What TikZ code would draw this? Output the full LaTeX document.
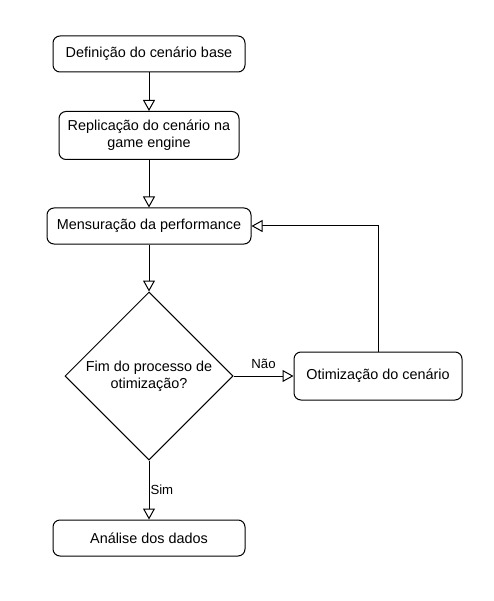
\documentclass[tikz,border=0pt]{standalone}
\usepackage{fontspec}
\setmainfont{Liberation Sans}
\usetikzlibrary{arrows.meta,shapes.geometric}
\begin{document}
\begin{tikzpicture}[x=1pt,y=-1pt,
  every node/.style={font=\fontsize{14.4}{17.3}\selectfont, inner sep=0pt, align=center},
  procbox/.style={draw, line width=1pt, rounded corners=7pt},
  decbox/.style={draw, line width=1pt, shape=diamond, minimum width=168pt, minimum height=168pt},
  flow/.style={draw, line width=1pt, -{Triangle[fill=white, length=11pt, width=12pt]}},
  lbl/.style={font=\fontsize{13.2}{15.8}\selectfont}
]
\useasboundingbox (0,0) rectangle (493,601);
\node[procbox, minimum width=192pt, minimum height=36pt] (b1) at (149,54) {Definição do cenário base};
\node[procbox, minimum width=180pt, minimum height=48pt] (b2) at (149,135.5) {Replicação do cenário na\\game engine};
\node[procbox, minimum width=204pt, minimum height=36pt] (b3) at (149,226) {Mensuração da performance};
\node[decbox] (d) at (149,376) {Fim do processo de\\otimização?};
\node[procbox, minimum width=168pt, minimum height=48pt] (opt) at (378,376) {Otimização do cenário};
\node[procbox, minimum width=192pt, minimum height=36pt] (b5) at (149,538) {Análise dos dados};
\coordinate (c1) at (378,226);
\path[flow] (b1) -- (b2);
\path[flow] (b2) -- (b3);
\path[flow] (b3) -- (d);
\path[flow] (d) -- node[lbl, pos=0.5, above=7pt] {Não} (opt);
\path[flow] (d) -- node[lbl, pos=0.5, right=1pt] {Sim} (b5);
\path[flow] (opt.north) -- (c1) -- (b3.east);
\end{tikzpicture}
\end{document}
